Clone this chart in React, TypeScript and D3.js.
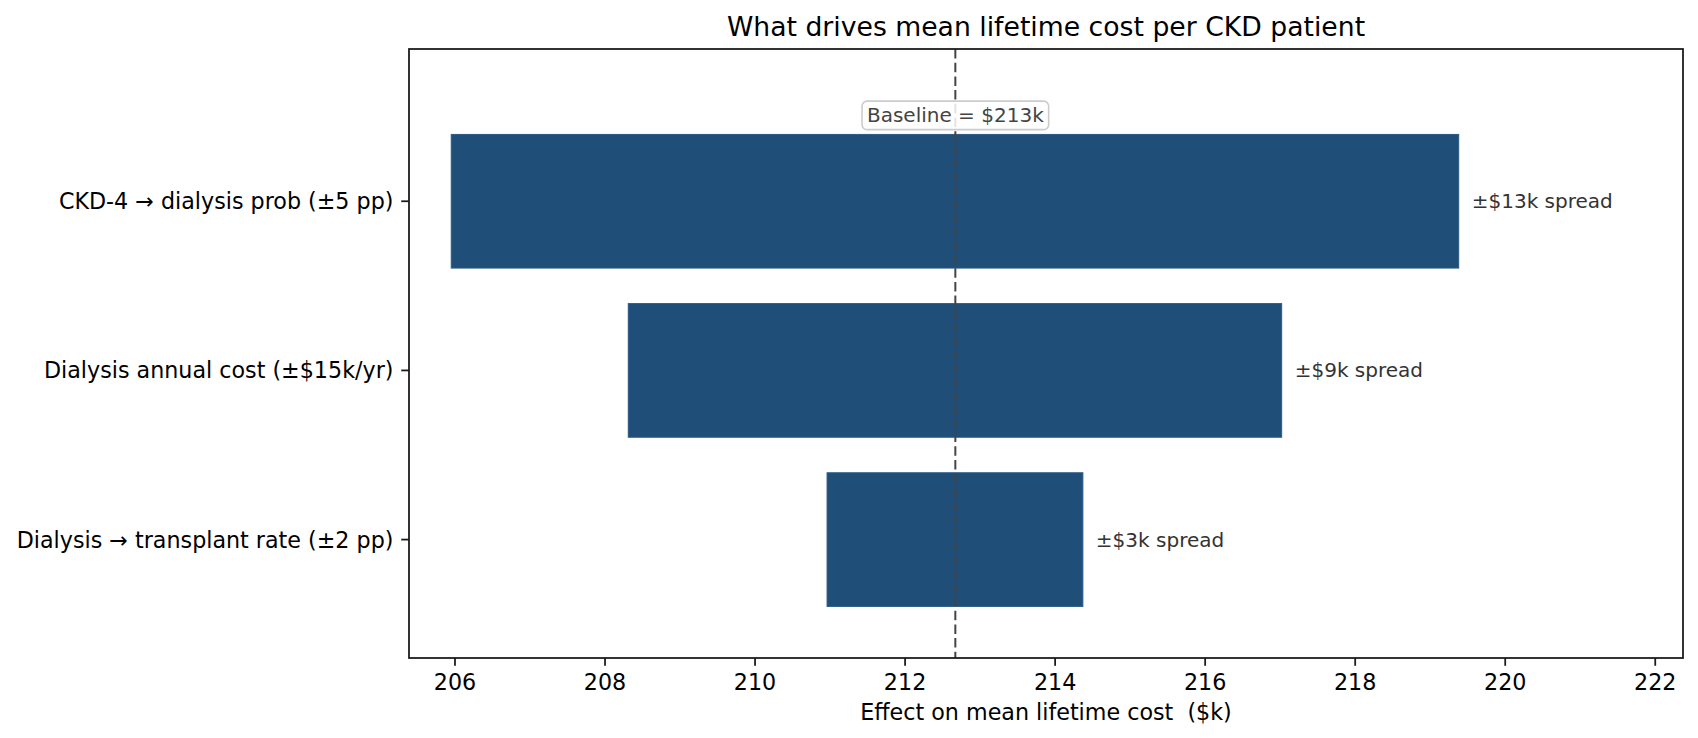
import * as d3 from "d3";
import React from "react";

// tornado inputs ($k)
const drivers = [
  "CKD-4 → dialysis prob (±5 pp)",
  "Dialysis annual cost (±$15k/yr)",
  "Dialysis → transplant rate (±2 pp)",
];
const lowValues = [205.95, 208.31, 210.96];
const highValues = [219.38, 217.02, 214.37];
const baselineCost = 212.67;
const xTicks = [206, 208, 210, 212, 214, 216, 218, 220, 222];

const W = 1698, H = 738;
const left = 409, right = 1683, top = 49, bottom = 658;
const font = "DejaVu Sans, sans-serif";
const pt = 160 / 72;

export default function App() {
  const x = d3.scaleLinear().domain([205.387, 222.37]).range([left, right]);
  const y = d3.scaleLinear().domain([-0.9, 2.7]).range([top, bottom]);
  const bh = y(0.395) - y(-0.395);
  const bx = x(baselineCost);
  const by = y(-0.5);
  const tick = 3.5 * pt;

  return (
    <div style={{ position: "fixed", left: 0, top: 0 }}>
      <svg width={W} height={H} style={{ display: "block", background: "#fff" }} fontFamily={font}>
        <text x={(left + right) / 2} y={36} textAnchor="middle" fontSize={12 * pt} fill="#000">
          What drives mean lifetime cost per CKD patient
        </text>

        {drivers.map((d, i) => (
          <rect key={d} x={x(lowValues[i])} y={y(i) - bh / 2}
            width={x(highValues[i]) - x(lowValues[i])} height={bh}
            fill="#1f4e79" stroke="#2b5a86" strokeWidth={1} />
        ))}

        {drivers.map((d, i) => (
          <text key={d} x={x(highValues[i]) + 13} y={y(i) + 7} fontSize={9 * pt} fill="#333">
            ±${Math.round(highValues[i] - lowValues[i])}k spread
          </text>
        ))}

        <line x1={bx} x2={bx} y1={top} y2={bottom} stroke="#444" strokeWidth={2} strokeDasharray="9.5,4.2" />

        <rect x={bx - 93.3} y={by - 15.5} width={186.6} height={28.5} rx={5}
          fill="#fff" fillOpacity={0.85} stroke="#ccc" strokeWidth={1.6} />
        <text x={bx} y={by + 5.5} textAnchor="middle" fontSize={9 * pt} fill="#444">
          Baseline = ${Math.round(baselineCost)}k
        </text>

        <rect x={left} y={top} width={right - left} height={bottom - top} fill="none" stroke="#1a1a1a" strokeWidth={0.8 * pt} />

        {xTicks.map(t => (
          <g key={t}>
            <line x1={x(t)} x2={x(t)} y1={bottom} y2={bottom + tick} stroke="#1a1a1a" strokeWidth={0.8 * pt} />
            <text x={x(t)} y={690} textAnchor="middle" fontSize={10 * pt} fill="#000">{t}</text>
          </g>
        ))}

        {drivers.map((d, i) => (
          <g key={d}>
            <line x1={left - tick} x2={left} y1={y(i)} y2={y(i)} stroke="#1a1a1a" strokeWidth={0.8 * pt} />
            <text x={left - 2 * tick} y={y(i) + 8} textAnchor="end" fontSize={10 * pt} fill="#000">{d}</text>
          </g>
        ))}

        <text x={(left + right) / 2} y={720} textAnchor="middle" fontSize={10 * pt} fill="#000" style={{ whiteSpace: "pre" }}>
          Effect on mean lifetime cost  ($k)
        </text>
      </svg>
    </div>
  );
}
